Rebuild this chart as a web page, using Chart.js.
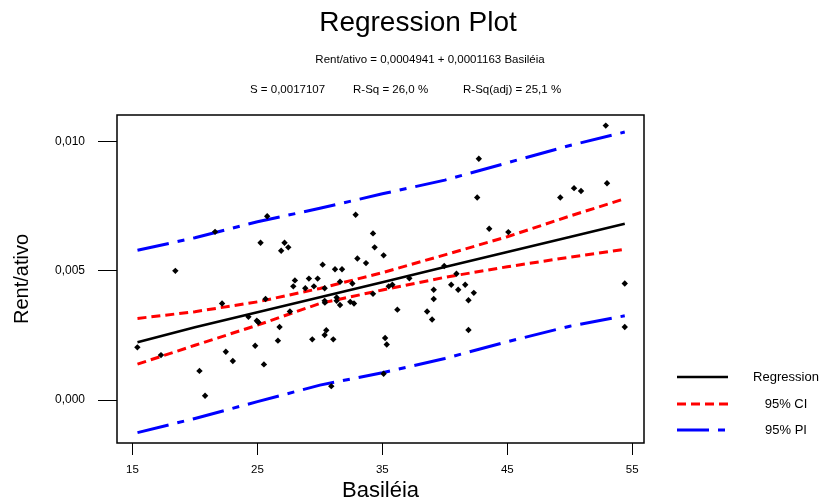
<!DOCTYPE html>
<html>
<head>
<meta charset="utf-8">
<script src="https://cdn.jsdelivr.net/npm/chart.js@4/dist/chart.umd.min.js"></script>
<style>
  html, body { margin: 0; padding: 0; background: #fff; }
  #wrap { width: 824px; height: 504px; }
</style>
</head>
<body>
<div id="wrap"><canvas id="regPlot" width="824" height="504"></canvas></div>
<script>
// Regression Plot - Rent/ativo vs Basiléia

const xTicks = [15, 25, 35, 45, 55];
const yTicks = [0, 0.005, 0.010];

// observed points
const basileia = [
  15.39, 17.28, 18.43, 20.36, 20.81, 21.61, 22.17, 22.47, 23.03, 24.28,
  24.82, 24.95, 25.08, 25.25, 25.52, 25.65, 25.78, 26.64, 26.77, 26.90,
  27.17, 27.47, 27.60, 27.87, 28.00, 28.83, 29.12, 29.39, 29.52, 29.82,
  30.22, 30.38, 30.38, 30.40, 30.51, 30.38, 30.91, 31.07, 31.21, 31.34,
  31.34, 31.61, 31.77, 31.61, 32.43, 32.60, 32.73, 32.86, 33.00, 33.69,
  34.25, 34.38, 34.25, 35.10, 35.51, 35.80, 35.22, 35.35, 35.10, 36.20,
  37.16, 38.58, 38.98, 39.11, 39.11, 39.95, 40.51, 40.93, 41.07, 41.63,
  41.89, 41.89, 42.32, 42.59, 42.72, 43.55, 45.08, 49.24, 50.34, 50.90,
  52.88, 52.98, 54.40, 54.40
];
const rentAtivo = [
  0.00204, 0.00174, 0.00500, 0.00113, 0.00017, 0.00651, 0.00374, 0.00187, 0.00151, 0.00322,
  0.00210, 0.00307, 0.00301, 0.00609, 0.00138, 0.00391, 0.00711, 0.00230, 0.00283, 0.00578,
  0.00609, 0.00591, 0.00343, 0.00440, 0.00463, 0.00433, 0.00470, 0.00235, 0.00440, 0.00470,
  0.00524, 0.00433, 0.00384, 0.00377, 0.00270, 0.00252, 0.00054, 0.00235, 0.00506, 0.00397,
  0.00384, 0.00368, 0.00506, 0.00458, 0.00380, 0.00451, 0.00374, 0.00717, 0.00548, 0.00530,
  0.00645, 0.00591, 0.00411, 0.00560, 0.00440, 0.00446, 0.00240, 0.00215, 0.00102, 0.00350,
  0.00471, 0.00343, 0.00312, 0.00427, 0.00391, 0.00519, 0.00446, 0.00489, 0.00427, 0.00446,
  0.00386, 0.00271, 0.00415, 0.00784, 0.00934, 0.00663, 0.00650, 0.00784, 0.00820, 0.00809,
  0.01062, 0.00839, 0.00451, 0.00283
];

// fitted line and bands, read at these Basiléia values
const fitX       = [15.4, 20, 25, 30, 35, 40, 45, 50, 54.4];
const regression = [0.00224, 0.00282, 0.00340, 0.00398, 0.00456, 0.00515, 0.00573, 0.00631, 0.00682];
const ciUpper    = [0.00316, 0.00342, 0.00380, 0.00432, 0.00493, 0.00562, 0.00632, 0.00712, 0.00779];
const ciLower    = [0.00139, 0.00212, 0.00290, 0.00374, 0.00426, 0.00475, 0.00516, 0.00553, 0.00583];
const piUpper    = [0.00580, 0.00628, 0.00690, 0.00742, 0.00798, 0.00851, 0.00918, 0.00985, 0.01037];
const piLower    = [-0.00126, -0.00071, -0.00006, 0.00058, 0.00106, 0.00161, 0.00226, 0.00286, 0.00326];

const FONT = 'Arial, "Liberation Sans", sans-serif';

function pts(xs, ys) {
  return xs.map((x, i) => ({ x: x, y: ys[i] }));
}
function fmt(v) {
  return v.toFixed(3).replace('.', ',');
}

// frame, titles and legend drawn after the chart
const decor = {
  id: 'decor',
  afterDraw(chart) {
    const ctx = chart.ctx;
    const a = chart.chartArea;
    ctx.save();
    ctx.strokeStyle = '#000';
    ctx.lineWidth = 1.5;
    ctx.strokeRect(a.left, a.top, a.right - a.left, a.bottom - a.top);

    ctx.fillStyle = '#000';
    ctx.textBaseline = 'middle';
    ctx.textAlign = 'center';
    ctx.font = '28px ' + FONT;
    ctx.fillText('Regression Plot', 418, 23);
    ctx.font = '11.5px ' + FONT;
    ctx.fillText('Rent/ativo = 0,0004941 + 0,0001163 Basiléia', 430, 60);
    ctx.textAlign = 'left';
    ctx.fillText('S = 0,0017107', 250, 90);
    ctx.fillText('R-Sq = 26,0 %', 353, 90);
    ctx.fillText('R-Sq(adj) = 25,1 %', 463, 90);

    // legend
    ctx.font = '13px ' + FONT;
    const items = [
      { ds: chart.data.datasets[1], y: 377 },
      { ds: chart.data.datasets[2], y: 404 },
      { ds: chart.data.datasets[4], y: 430 }
    ];
    items.forEach(it => {
      ctx.beginPath();
      ctx.strokeStyle = it.ds.borderColor;
      ctx.lineWidth = it.ds.borderWidth;
      ctx.setLineDash(it.ds.borderDash || []);
      ctx.moveTo(677, it.y);
      ctx.lineTo(728, it.y);
      ctx.stroke();
      ctx.setLineDash([]);
      ctx.textAlign = 'center';
      ctx.fillText(it.ds.label, 786, it.y);
    });
    ctx.restore();
  }
};

const ciStyle = { borderColor: '#ff0000', borderWidth: 3, borderDash: [9, 5] };
const piStyle = { borderColor: '#0000ff', borderWidth: 3, borderDash: [32, 9, 7, 9] };

new Chart(document.getElementById('regPlot').getContext('2d'), {
  type: 'scatter',
  data: {
    datasets: [
      {
        label: 'Data',
        data: pts(basileia, rentAtivo),
        pointStyle: 'rectRot',
        pointRadius: 3.2,
        backgroundColor: '#000',
        borderColor: '#000',
        borderWidth: 0
      },
      {
        label: 'Regression',
        data: pts(fitX, regression),
        showLine: true, pointRadius: 0,
        borderColor: '#000', borderWidth: 2.5
      },
      Object.assign({ label: '95% CI', data: pts(fitX, ciUpper), showLine: true, pointRadius: 0 }, ciStyle),
      Object.assign({ label: '95% CI', data: pts(fitX, ciLower), showLine: true, pointRadius: 0 }, ciStyle),
      Object.assign({ label: '95% PI', data: pts(fitX, piUpper), showLine: true, pointRadius: 0 }, piStyle),
      Object.assign({ label: '95% PI', data: pts(fitX, piLower), showLine: true, pointRadius: 0 }, piStyle)
    ]
  },
  options: {
    responsive: false,
    animation: false,
    layout: { padding: { left: 0, right: 180, top: 115, bottom: 0 } },
    plugins: {
      legend: { display: false },
      tooltip: { enabled: false }
    },
    scales: {
      x: {
        type: 'linear',
        min: 13.76,
        max: 55.94,
        afterBuildTicks: s => { s.ticks = xTicks.map(v => ({ value: v })); },
        afterFit: s => { s.height = 61; },
        border: { display: false },
        grid: { drawOnChartArea: false, drawTicks: true, tickLength: 12, color: '#000', lineWidth: 1 },
        ticks: { color: '#000', font: { family: FONT, size: 11.5 }, padding: 8, maxRotation: 0 },
        title: { display: true, text: 'Basiléia', color: '#000', font: { family: FONT, size: 22 }, padding: { top: 0, bottom: 0 } }
      },
      y: {
        type: 'linear',
        min: -0.00166,
        max: 0.01103,
        afterBuildTicks: s => { s.ticks = yTicks.map(v => ({ value: v })); },
        afterFit: s => { s.width = 117; },
        border: { display: false },
        grid: { drawOnChartArea: false, drawTicks: true, tickLength: 19, color: '#000', lineWidth: 1 },
        ticks: { color: '#000', font: { family: FONT, size: 12 }, padding: 13, callback: v => fmt(v) },
        title: { display: true, text: 'Rent/ativo', color: '#000', font: { family: FONT, size: 20 }, padding: { top: 10, bottom: 0 } }
      }
    }
  },
  plugins: [decor]
});
</script>
</body>
</html>
